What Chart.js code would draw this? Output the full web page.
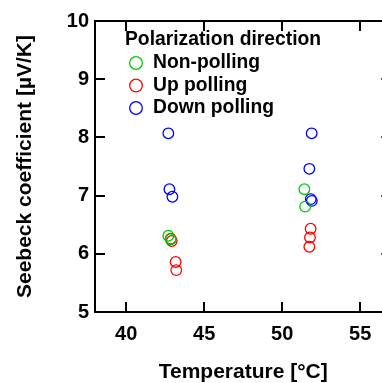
<!DOCTYPE html>
<html>
<head>
<meta charset="utf-8">
<script src="https://cdn.jsdelivr.net/npm/chart.js@4.4.1/dist/chart.umd.min.js"></script>
<style>
html,body{margin:0;padding:0;background:#fff;overflow:hidden;width:382px;height:383px;}
canvas{display:block;}
</style>
</head>
<body>
<canvas id="c" width="400" height="383" style="width:400px;height:383px"></canvas>
<script>
// ---- data ----
const legendTitle = 'Polarization direction';
const seriesNames = ['Non-polling', 'Up polling', 'Down polling'];
const nonX = [42.70, 42.85, 51.42, 51.47];
const nonY = [6.31, 6.25, 7.11, 6.81];
const upX = [42.85, 42.92, 43.17, 43.21, 51.82, 51.78, 51.74];
const upY = [6.26, 6.22, 5.86, 5.72, 6.43, 6.28, 6.12];
const downX = [42.70, 42.77, 42.96, 51.89, 51.74, 51.83, 51.90];
const downY = [8.07, 7.11, 6.98, 8.07, 7.46, 6.94, 6.91];
const xTickValues = [40, 45, 50, 55];
const yTickValues = [5, 6, 7, 8, 9, 10];
const xTitle = 'Temperature [°C]';
const yTitle = 'Seebeck coefficient [µV/K]';

const colors = ['rgb(0,200,0)', 'rgb(255,0,0)', 'rgb(0,0,255)'];
const FONT = "'Liberation Sans', Arial, sans-serif";

function pts(xs, ys){ return xs.map((x,i)=>({x:x, y:ys[i]})); }

const frameAndLegend = {
  id: 'frameAndLegend',
  afterDraw(chart){
    const ctx = chart.ctx;
    const a = chart.chartArea;
    const xs = chart.scales.x, ys = chart.scales.y;
    ctx.save();
    ctx.strokeStyle = '#000';
    ctx.lineWidth = 2;
    ctx.strokeRect(a.left, a.top, a.right - a.left, a.bottom - a.top);
    const tl = 10;
    ctx.beginPath();
    xs.ticks.forEach(t => {
      const p = Math.round(xs.getPixelForValue(t.value));
      ctx.moveTo(p, a.bottom); ctx.lineTo(p, a.bottom - tl);
      ctx.moveTo(p, a.top); ctx.lineTo(p, a.top + tl);
    });
    ys.ticks.forEach(t => {
      const p = Math.round(ys.getPixelForValue(t.value));
      ctx.moveTo(a.left, p); ctx.lineTo(a.left + tl, p);
      ctx.moveTo(a.right, p); ctx.lineTo(a.right - tl, p);
    });
    ctx.stroke();
    // legend
    ctx.fillStyle = '#000';
    ctx.textBaseline = 'middle';
    ctx.textAlign = 'left';
    ctx.font = 'bold 19.3px ' + FONT;
    ctx.fillText(legendTitle, 125, 40);
    const rowY = [63, 85.5, 108];
    chart.data.datasets.forEach((ds, i) => {
      ctx.beginPath();
      ctx.lineWidth = 1.3;
      ctx.strokeStyle = ds.borderColor;
      ctx.arc(136, rowY[i], 6.3, 0, Math.PI * 2);
      ctx.stroke();
      ctx.fillStyle = '#000';
      ctx.fillText(ds.label, 153, rowY[i]);
    });
    ctx.restore();
  }
};

new Chart(document.getElementById('c'), {
  type: 'scatter',
  data: {
    datasets: [
      {label: seriesNames[0], data: pts(nonX, nonY), borderColor: colors[0]},
      {label: seriesNames[1], data: pts(upX, upY), borderColor: colors[1]},
      {label: seriesNames[2], data: pts(downX, downY), borderColor: colors[2]}
    ].map(d => Object.assign(d, {backgroundColor: 'rgba(0,0,0,0)', pointRadius: 5.3, pointBorderWidth: 1.3, pointHoverRadius: 5.3}))
  },
  options: {
    responsive: false,
    animation: false,
    devicePixelRatio: 1,
    layout: {padding: {left: 0, top: 21, right: 8.6, bottom: 0}},
    plugins: {legend: {display: false}, tooltip: {enabled: false}},
    scales: {
      x: {
        type: 'linear', min: 38, max: 57,
        afterBuildTicks: s => { s.ticks = xTickValues.map(v => ({value: v})); },
        afterFit: s => { s.height = 71; s.paddingLeft = 0; s.paddingRight = 0; },
        grid: {display: false, drawTicks: false},
        border: {display: false},
        ticks: {padding: 10, color: '#000', font: {family: FONT, size: 20, weight: 'bold'}},
        title: {display: true, text: xTitle, color: '#000', padding: {top: 0, bottom: 0},
                font: {family: FONT, size: 21, weight: 'bold', lineHeight: 1}}
      },
      y: {
        type: 'linear', min: 5, max: 10,
        afterBuildTicks: s => { s.ticks = yTickValues.map(v => ({value: v})); },
        afterFit: s => { s.width = 95; s.paddingTop = 0; s.paddingBottom = 0; },
        grid: {display: false, drawTicks: false},
        border: {display: false},
        ticks: {padding: 6, color: '#000', font: {family: FONT, size: 20, weight: 'bold'}},
        title: {display: true, text: yTitle, color: '#000', padding: {top: 14.5, bottom: 0},
                font: {family: FONT, size: 21, weight: 'bold', lineHeight: 1}}
      }
    }
  },
  plugins: [frameAndLegend]
});
</script>
</body>
</html>
